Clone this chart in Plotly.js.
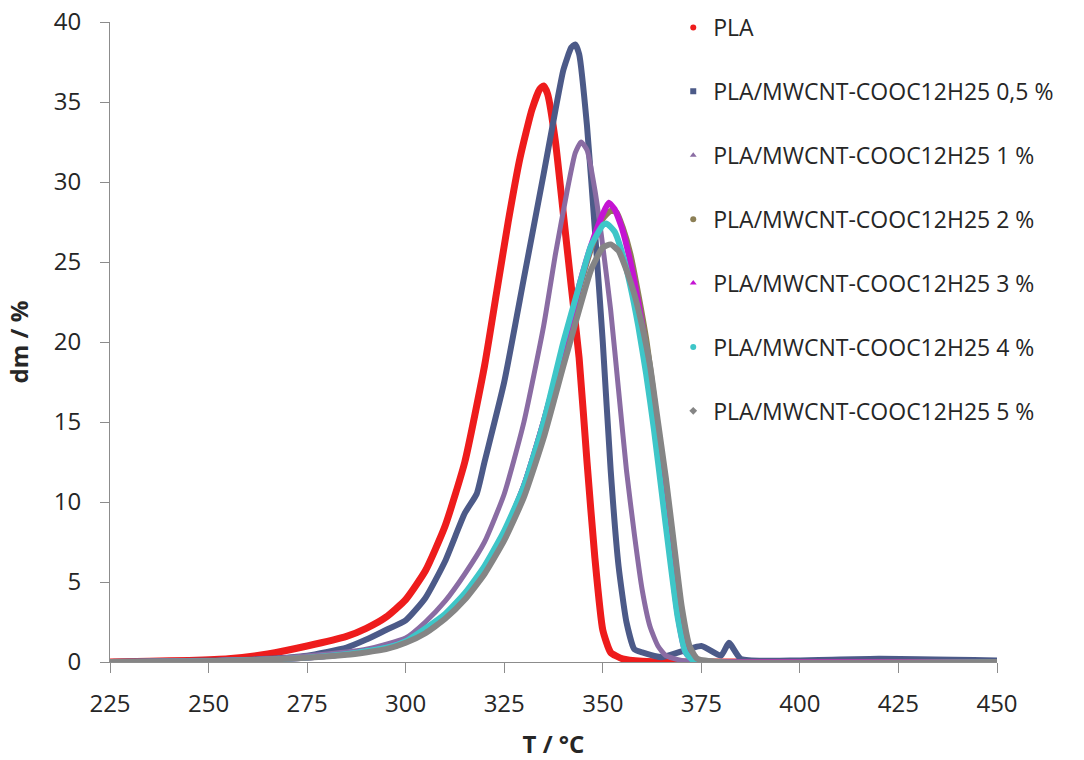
<!DOCTYPE html>
<html>
<head>
<meta charset="utf-8">
<script src="https://cdn.plot.ly/plotly-3.0.1.min.js"></script>
<style>html,body{margin:0;padding:0;background:#fff;}#chart{width:1084px;height:760px;}</style>
</head>
<body>
<div id="chart"></div>
<script>
// Series names
const seriesNames = ["PLA","PLA/MWCNT-COOC12H25 0,5 %","PLA/MWCNT-COOC12H25 1 %","PLA/MWCNT-COOC12H25 2 %","PLA/MWCNT-COOC12H25 3 %","PLA/MWCNT-COOC12H25 4 %","PLA/MWCNT-COOC12H25 5 %"];

// PLA
const tPLA = [225,235,245,255,265,275,285,290,295,300,305,310,315,320,323,326,329,332,334,335,336,338,340,342,344,346,348,350,352,355,360,370,380,400,420,450];
const vPLA = [0,0.05,0.1,0.2,0.5,1.0,1.6,2.1,2.8,3.9,5.7,8.5,12.5,18.5,23,27.5,31.5,34.5,35.8,36,35.5,32.5,28,23.5,19,12.5,6.5,2,0.6,0.2,0.05,0,0,0,0,0];

// 0,5 %
const t05 = [225,240,255,265,275,285,290,295,300,305,310,315,318,320,325,330,335,338,340,342,343,344,346,348,350,352,354,356,358,360,365,375,380,382,385,400,420,450];
const v05 = [0,0.05,0.1,0.2,0.4,0.9,1.4,2,2.6,4,6.3,9.3,10.5,12.5,17.5,24,30.5,34.5,37,38.4,38.6,38,33.5,27,20,12,6,2.5,0.8,0.6,0.3,1,0.4,1.2,0.2,0.1,0.2,0.1];

// 1 %
const t1 = [225,245,265,280,290,300,305,310,315,320,325,330,335,338,341,343,344.5,346,348,350,352,354,356,358,360,362,364,366,370,380,450];
const v1 = [0,0.05,0.2,0.5,0.8,1.5,2.5,3.8,5.5,7.5,10.5,15,21,25.5,29.5,31.8,32.5,32,29.5,26,22,17,12,8,4.5,2.2,1,0.4,0.1,0,0];

// 2 %
const t2 = [225,250,270,285,295,300,305,310,315,320,325,330,335,340,344,347,350,352,353.5,355,357,359,361,363,365,367,369,371,373,380,450];
const v2 = [0,0.05,0.2,0.5,0.9,1.3,2,2.9,4.1,5.8,8,11,15,19.5,23.3,25.8,27.7,28.2,28.1,27.2,25.5,23,20.2,16.5,12.5,8,3.5,0.8,0.1,0,0];

// 3 %
const t3 = [225,250,270,285,295,300,305,310,315,320,325,330,335,340,344,347,350,351.5,353,355,357,359,361,363,365,367,369,371,373,380,450];
const v3 = [0,0.05,0.2,0.5,0.9,1.3,2,2.9,4.1,5.8,8,11,15,19.5,23.5,26,28,28.7,28.3,27,25,22.5,19.5,15.5,11.5,7,3,0.6,0.1,0,0];

// 4 %
const t4 = [225,250,270,285,295,300,305,310,315,320,325,330,335,340,344,347,350,351,353,355,357,359,361,363,365,367,369,371,373,450];
const v4 = [0,0.05,0.2,0.5,0.9,1.3,2.1,3,4.3,6,8.2,11,15,20,23.5,26,27.3,27.4,26.9,25.5,23.5,21,18,14.5,10.5,6.5,2.8,0.6,0.1,0];

// 5 %
const t5 = [225,250,270,285,295,300,305,310,315,320,325,330,335,340,344,347,350,352,354,356,358,360,362,364,366,368,370,372,374,380,450];
const v5 = [0,0.05,0.2,0.45,0.8,1.2,1.8,2.7,3.9,5.5,7.6,10.3,14,18.5,22,24.5,25.9,26.1,25.7,24.5,23,21,18.5,15,11.5,7.5,3.5,1,0.2,0,0];

const xTicks = [225,250,275,300,325,350,375,400,425,450];
const yTicks = [0,5,10,15,20,25,30,35,40];

const xs = [tPLA,t05,t1,t2,t3,t4,t5];
const ys = [vPLA,v05,v1,v2,v3,v4,v5];
const colors = ["#ee1c1c","#4c5a88","#8a6ca3","#8c7f55","#c414d2","#3ec6c8","#858585"];
const symbols = ["circle","square","triangle-up","circle","triangle-up","circle","diamond"];
const widths = [7,6,5,6,6,6,6];

const traces = [];
for (let i = 0; i < seriesNames.length; i++) {
  traces.push({
    type: "scatter", mode: "lines", x: xs[i], y: ys[i],
    line: {color: colors[i], width: widths[i], shape: "spline", smoothing: 0.5},
    legendgroup: "g" + i, showlegend: false, hoverinfo: "skip"
  });
}
for (let i = 0; i < seriesNames.length; i++) {
  traces.push({
    type: "scatter", mode: "markers", x: [null], y: [null], name: seriesNames[i],
    marker: {color: colors[i], symbol: symbols[i], size: 6},
    legendgroup: "g" + i, showlegend: true
  });
}

const layout = {
  width: 1084, height: 760,
  margin: {l: 110, r: 87, t: 22, b: 98, autoexpand: false},
  paper_bgcolor: "#ffffff", plot_bgcolor: "#ffffff",
  font: {family: "Open Sans, sans-serif", color: "#262626", size: 24},
  showlegend: true,
  legend: {
    x: 0.635, xanchor: "left", y: 1.025, yanchor: "top",
    font: {size: 23, color: "#262626"}, bgcolor: "rgba(0,0,0,0)",
    traceorder: "grouped", tracegroupgap: 31, itemwidth: 30, maxheight: 1
  },
  xaxis: {
    range: [225, 450], tickvals: xTicks, ticktext: xTicks.map(String),
    showgrid: false, zeroline: false, showline: true, linecolor: "#8c8c8c", linewidth: 1,
    ticks: "outside", ticklen: 10, tickcolor: "#8c8c8c", ticklabelstandoff: 10,
    tickfont: {size: 24},
    title: {text: "<b>T / °C</b>", font: {size: 24}, standoff: 20}
  },
  yaxis: {
    range: [0, 40], tickvals: yTicks, ticktext: yTicks.map(String),
    showgrid: false, zeroline: false, showline: true, linecolor: "#8c8c8c", linewidth: 1,
    ticks: "outside", ticklen: 9, tickcolor: "#8c8c8c", ticklabelstandoff: 14,
    tickfont: {size: 24},
    title: {text: "<b>dm / %</b>", font: {size: 24}, standoff: 18}
  }
};

Plotly.newPlot("chart", traces, layout, {displayModeBar: false, staticPlot: true});
</script>
</body>
</html>
